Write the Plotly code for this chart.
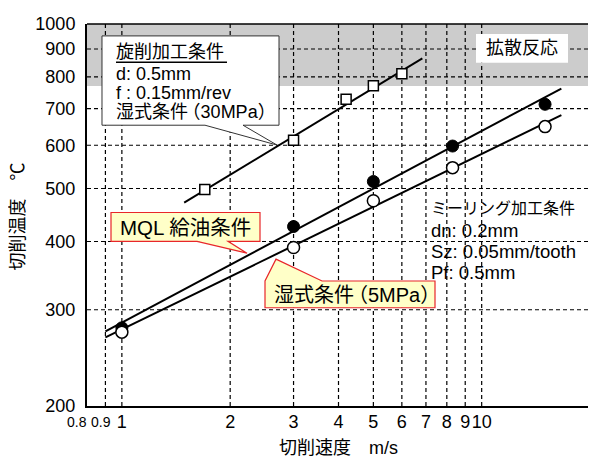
import math
import plotly.graph_objects as go

# ---- data ----
turn_v = [1.7, 3.0, 4.2, 5.0, 6.0]
turn_T = [498, 613, 728, 771, 811]
turn_fit_v = [1.49, 6.84]
turn_fit_T = [471, 865]

mql_v = [1.0, 3.0, 5.0, 8.3, 15.0]
mql_T = [278, 426, 515, 598, 713]
mql_fit_v = [0.9, 16.65]
mql_fit_T = [274, 762]

wet_v = [1.0, 3.0, 5.0, 8.3, 15.0]
wet_T = [273, 390, 475, 546, 649]
wet_fit_v = [0.9, 16.65]
wet_fit_T = [267, 681]

x_ticks = [0.8, 0.9, 1, 2, 3, 4, 5, 6, 7, 8, 9, 10, 20]
x_ticktext = ["", "", "1", "2", "3", "4", "5", "6", "7", "8", "9", "10", "20"]
y_ticks = [200, 300, 400, 500, 600, 700, 800, 900, 1000]
y_ticktext = [str(v) for v in y_ticks]
x_range = [0.8, 20]
y_range = [200, 1000]
diffusion_T = [770, 1000]

FONT = "Liberation Sans, Arial, Noto Sans CJK JP, sans-serif"

# page offset from default body margin
OFF = 8
# plot-area geometry in page pixels (for annotation placement)
PL, PR, PT, PB = 87, 590, 21, 406
W, H = 596, 457


def px(x):
    return (x - PL) / (PR - PL)


def py(y):
    return (PB - y) / (PB - PT)


def path(points):
    return "M " + " L ".join(f"{px(a):.5f},{py(b):.5f}" for a, b in points) + " Z"


fig = go.Figure()

line_style = dict(color="black", width=2)
fig.add_trace(go.Scatter(x=turn_fit_v, y=turn_fit_T, mode="lines", line=line_style, showlegend=False))
fig.add_trace(go.Scatter(x=mql_fit_v, y=mql_fit_T, mode="lines", line=line_style, showlegend=False))
fig.add_trace(go.Scatter(x=wet_fit_v, y=wet_fit_T, mode="lines", line=line_style, showlegend=False))

fig.add_trace(go.Scatter(x=turn_v, y=turn_T, mode="markers", showlegend=False,
                         marker=dict(symbol="square", size=10, color="white",
                                     line=dict(color="black", width=1.5))))
fig.add_trace(go.Scatter(x=mql_v, y=mql_T, mode="markers", showlegend=False,
                         marker=dict(symbol="circle", size=12, color="black",
                                     line=dict(color="black", width=1))))
fig.add_trace(go.Scatter(x=wet_v, y=wet_T, mode="markers", showlegend=False,
                         marker=dict(symbol="circle", size=12, color="white",
                                     line=dict(color="black", width=1.5))))

shapes = []
# diffusion band
shapes.append(dict(type="rect", xref="paper", x0=0, x1=1, yref="y",
                   y0=diffusion_T[0], y1=diffusion_T[1],
                   fillcolor="#CCCCCC", line=dict(width=0), layer="below"))
# dashed grid
gdash = dict(color="black", width=1.2, dash="4px,3px")
for v in x_ticks[1:-1]:
    shapes.append(dict(type="line", xref="x", yref="paper", x0=v, x1=v, y0=0, y1=1,
                       line=gdash, layer="below"))
for v in y_ticks[1:-1]:
    shapes.append(dict(type="line", xref="paper", yref="y", x0=0, x1=1, y0=v, y1=v,
                       line=gdash, layer="below"))
# top/right frame
shapes.append(dict(type="line", xref="paper", yref="paper", x0=0, x1=1, y0=1, y1=1,
                   line=dict(color="black", width=1.5)))
shapes.append(dict(type="line", xref="paper", yref="paper", x0=1, x1=1, y0=0, y1=1,
                   line=dict(color="black", width=1.5)))
# diffusion label box
shapes.append(dict(type="rect", xref="paper", yref="paper", x0=px(476), x1=px(568),
                   y0=py(60), y1=py(31), fillcolor="white", line=dict(width=0)))
# turning callout
shapes.append(dict(type="path", xref="paper", yref="paper",
                   path=path([(102, 33), (279, 33), (279, 123), (243, 123), (277, 143),
                              (205, 123), (102, 123)]),
                   fillcolor="white", line=dict(color="#333333", width=1)))
shapes.append(dict(type="line", xref="paper", yref="paper", x0=px(116), x1=px(227),
                   y0=py(59.5), y1=py(59.5), line=dict(color="black", width=1.5)))
# MQL callout
shapes.append(dict(type="path", xref="paper", yref="paper",
                   path=path([(111, 211), (260, 211), (260, 240), (228, 240), (247, 252),
                              (197, 240), (111, 240)]),
                   fillcolor="#FFFFC8", line=dict(color="#E8262A", width=1.2)))
# wet callout
shapes.append(dict(type="path", xref="paper", yref="paper",
                   path=path([(265, 307), (265, 280), (276, 258), (322, 280), (435, 280),
                              (435, 307)]),
                   fillcolor="#FFFFC8", line=dict(color="#E8262A", width=1.2)))

ann = []


def text(x, y, s, size, anchor="left", angle=0):
    ann.append(dict(xref="paper", yref="paper", x=px(x), y=py(y), text=s,
                    showarrow=False, xanchor=anchor, yanchor="middle", textangle=angle,
                    font=dict(family=FONT, size=size, color="black"), borderpad=0))


K = '<span style="letter-spacing:-0.3em">件</span>'

text(522, 45.5, "拡散反応", 18, "center")
text(115, 49, "旋削加工条件", 18)
text(115, 71.5, "d: 0.5mm", 18)
text(115, 91, "f : 0.15mm/rev", 18)
text(115, 110, "湿式条" + K + "（30MPa）", 18)
text(119, 226, "MQL 給油条件", 20.5)
text(273, 294, "湿式条" + K + "（5MPa）", 20)
text(430, 207, "ミーリング加工条件", 16)
text(430, 229, "dn: 0.2mm", 18.5)
text(430, 250, "Sz: 0.05mm/tooth", 18.5)
text(430, 271, "Pf: 0.5mm", 18.5)
# small x tick labels
text(77, 422, "0.8", 14, "center")
text(101, 422, "0.9", 14, "center")
# axis titles
text(338, 448, "切削速度　m/s", 18, "center")
text(18, 215, "切削温度　℃", 18, "center", -90)

fig.update_layout(
    width=W - OFF, height=H - OFF,
    margin=dict(l=PL - OFF, r=W - PR, t=PT - OFF, b=H - PB, pad=0),
    paper_bgcolor="white", plot_bgcolor="rgba(0,0,0,0)",
    font=dict(family=FONT, size=18, color="black"),
    shapes=shapes, annotations=ann,
    xaxis=dict(type="log", range=[math.log10(x_range[0]), math.log10(x_range[1])],
               tickmode="array", tickvals=x_ticks, ticktext=x_ticktext, tickangle=0,
               showgrid=False,
               showline=True, linecolor="black", linewidth=2, ticks="", zeroline=False,
               tickfont=dict(size=18), ticklabelstandoff=-2),
    yaxis=dict(type="log", range=[math.log10(y_range[0]), math.log10(y_range[1])],
               tickmode="array", tickvals=y_ticks, ticktext=y_ticktext,
               showgrid=False,
               showline=True, linecolor="black", linewidth=2, ticks="", zeroline=False,
               tickfont=dict(size=18), ticklabelstandoff=6),
)

fig.write_html("out.html")
